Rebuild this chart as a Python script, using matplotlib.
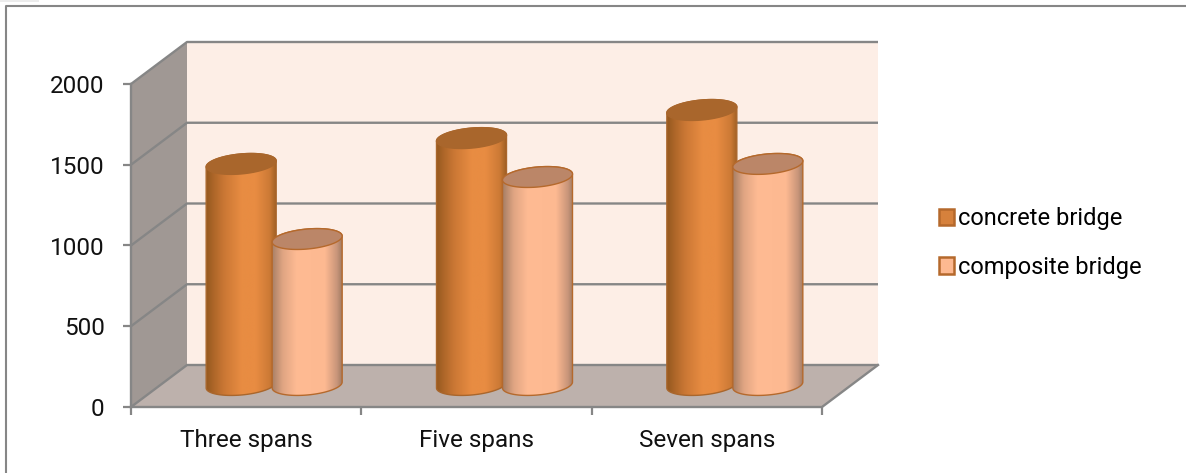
import matplotlib
matplotlib.use('Agg')
import matplotlib.pyplot as plt
from matplotlib.colors import LinearSegmentedColormap
from matplotlib.patches import Patch, Polygon, Rectangle
import numpy as np

categories = ['Three spans', 'Five spans', 'Seven spans']
concrete = [1375, 1535, 1709]
composite = [910, 1294, 1375]
y_ticks = [0, 500, 1000, 1500, 2000]
series_names = ['concrete bridge', 'composite bridge']

GREY = '#868686'
EDGE = '#b5692c'
FONT = ['Roboto', 'DejaVu Sans']

# pixels per data unit on the front plane of the chart
PX_X = 230.33
PX_Y = 323 / 2000
DEPTH_X = 56 / PX_X
DEPTH_Y = 42 / PX_Y

concrete_cmap = LinearSegmentedColormap.from_list('concrete', [
    (0, '#96591f'), (0.12, '#b0682a'), (0.25, '#ca7734'), (0.5, '#e88c42'), (0.7, '#e88c42'),
    (0.9, '#cc7a36'), (1, '#9c5d22')])
composite_cmap = LinearSegmentedColormap.from_list('composite', [
    (0, '#a88066'), (0.15, '#e0a583'), (0.35, '#ffbb93'), (0.75, '#fdb991'),
    (0.92, '#c8957a'), (1, '#9c7860')])


def ellipse_xy(cx, cy, a, b, tilt, t):
    x = cx + a * np.cos(t) / PX_X
    y = cy + (b * np.sin(t) + tilt * np.cos(t)) / PX_Y
    return np.column_stack([x, y])


def draw_cylinder(ax, cx, value, cmap, top_color, edge, order):
    a, b, tilt = 35, 10, 3
    base = DEPTH_Y / 2 + 1 / PX_Y
    top = DEPTH_Y / 2 + value

    # body outline: left side, round bottom, right side, round top edge
    lower = ellipse_xy(cx, base, a, b, tilt, np.linspace(np.pi, 2 * np.pi, 60))
    upper = ellipse_xy(cx, top, a, b, tilt, np.linspace(0, np.pi, 60))
    body = Polygon(np.vstack([lower, upper]), closed=True, fc='none', ec=edge,
                   lw=1.0, zorder=order + 0.2, clip_on=False)
    ax.add_patch(body)

    shade = ax.imshow(np.linspace(0, 1, 128).reshape(1, -1), cmap=cmap, aspect='auto',
                      extent=[cx - a / PX_X, cx + a / PX_X, base - 12 / PX_Y, top + 12 / PX_Y],
                      zorder=order)
    shade.set_clip_path(body)

    cap = ellipse_xy(cx, top, a, b, tilt, np.linspace(0, 2 * np.pi, 120))
    ax.add_patch(Polygon(cap, closed=True, fc=top_color, ec=edge, lw=1.0,
                         zorder=order + 0.3, clip_on=False))


def draw_box(ax):
    top = y_ticks[-1]
    xs = len(categories)
    back = [(DEPTH_X, DEPTH_Y), (xs + DEPTH_X, DEPTH_Y), (xs + DEPTH_X, top + DEPTH_Y), (DEPTH_X, top + DEPTH_Y)]
    floor = [(0, 0), (xs, 0), (xs + DEPTH_X, DEPTH_Y), (DEPTH_X, DEPTH_Y)]
    side = [(0, 0), (DEPTH_X, DEPTH_Y), (DEPTH_X, top + DEPTH_Y), (0, top)]
    ax.add_patch(Polygon(back, fc='#fdeee6', ec='none', zorder=1, clip_on=False))
    ax.add_patch(Polygon(floor, fc='#bdb1ac', ec='none', zorder=1, clip_on=False))
    ax.add_patch(Polygon(side, fc='#a09894', ec='none', zorder=1, clip_on=False))

    for v in y_ticks:
        ax.plot([0, DEPTH_X, xs + DEPTH_X], [v, v + DEPTH_Y, v + DEPTH_Y],
                color=GREY, lw=1.7, zorder=2, clip_on=False, solid_capstyle='butt')
    ax.plot([0, 0], [0, top], color=GREY, lw=1.7, zorder=2, clip_on=False)
    ax.plot([0, xs, xs + DEPTH_X], [0, 0, DEPTH_Y], color=GREY, lw=1.7, zorder=2, clip_on=False)


def main():
    fig = plt.figure(figsize=(11.86, 4.73), dpi=100)
    W, H = 1186, 473

    # frame around the chart area, open on the right and at the bottom
    fig.add_artist(plt.Line2D([6 / W, 6 / W, 1], [0, 1 - 6 / H, 1 - 6 / H], color=GREY, lw=1.5))
    fig.add_artist(Rectangle((0, 1 - 2 / H), 39 / W, 2 / H, fc='#ececec', ec='none'))

    ax = fig.add_axes([131 / W, (H - 407) / H, 691 / W, 323 / H])
    ax.patch.set_visible(False)
    for spine in ax.spines.values():
        spine.set_visible(False)

    draw_box(ax)

    centers = np.arange(len(categories)) + 0.5 + DEPTH_X / 2
    offset = 33 / PX_X
    for i, (c1, c2) in enumerate(zip(concrete, composite)):
        draw_cylinder(ax, centers[i] - offset, c1, concrete_cmap, '#a9662c', '#a9662c', 3 + i * 2)
        draw_cylinder(ax, centers[i] + offset, c2, composite_cmap, '#bb8668', EDGE, 4 + i * 2)

    ax.set_xlim(0, len(categories))
    ax.set_ylim(y_ticks[0], y_ticks[-1])

    ax.set_yticks(y_ticks)
    ax.tick_params(axis='y', length=6, width=1.6, color=GREY, pad=13, labelsize=17.5)
    ax.set_xticks(np.arange(len(categories) + 1))
    ax.set_xticklabels([])
    ax.set_xticks(np.arange(len(categories)) + 0.5, labels=categories, minor=True)
    ax.tick_params(axis='x', which='major', length=6, width=1.6, color=GREY)
    ax.tick_params(axis='x', which='minor', length=0, pad=16, labelsize=17.5)
    for label in ax.get_yticklabels() + ax.get_xticklabels(minor=True):
        label.set_family(FONT)
        label.set_color('#111111')

    handles = [Patch(fc='#d6813c', ec=EDGE, lw=1.8), Patch(fc='#fdb991', ec=EDGE, lw=1.8)]
    fig.legend(handles, series_names, loc='center left', bbox_to_anchor=(939 / W, 1 - 243 / H),
               frameon=False, prop={'family': FONT, 'size': 17}, handlelength=0.64,
               handleheight=0.68, handletextpad=0.18, labelspacing=1.08, borderpad=0, borderaxespad=0)

    fig.savefig('out.png', dpi=100)


if __name__ == '__main__':
    main()
